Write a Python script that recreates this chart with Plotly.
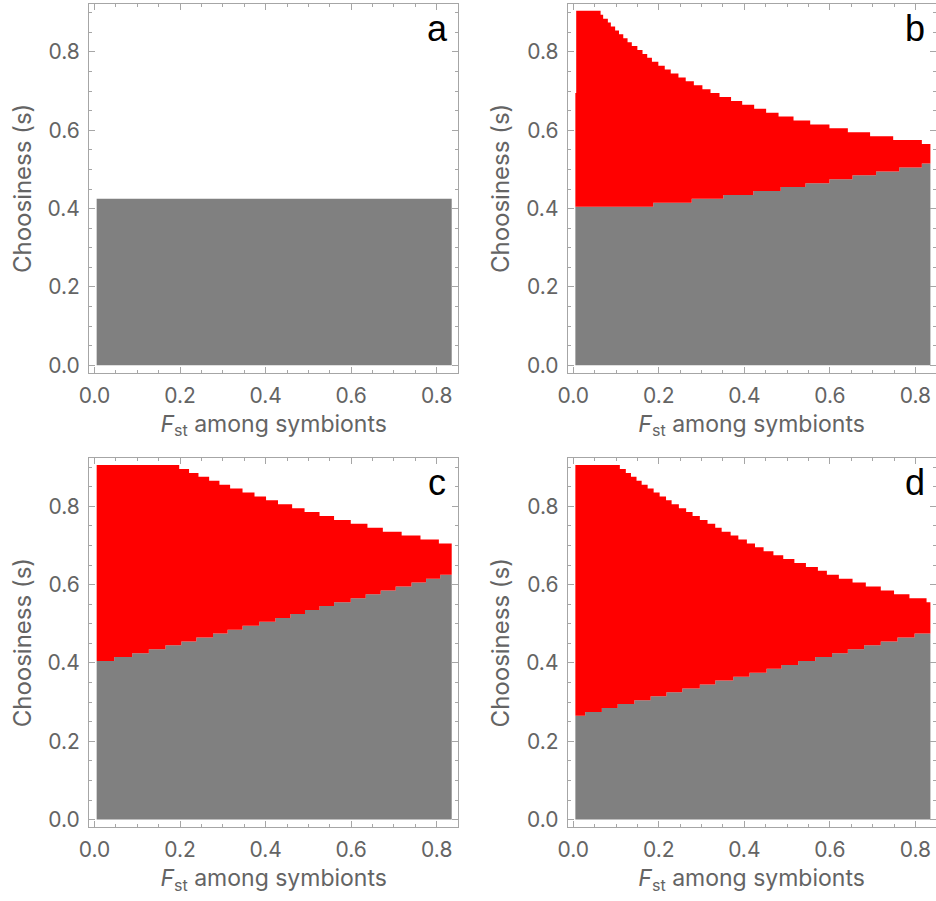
import plotly.graph_objects as go

# ---------------- data ----------------
X_END = 0.835

# panel a
a_lower_x = [0.005]
a_lower_y = [0.425]

# panel b
b_upper_x = [0.005, 0.007, 0.064, 0.070, 0.081, 0.088, 0.098, 0.107, 0.117, 0.127, 0.137, 0.150,
             0.162, 0.173, 0.184, 0.199, 0.214, 0.228, 0.246, 0.263, 0.282, 0.302,
             0.321, 0.342, 0.369, 0.395, 0.423, 0.451, 0.480, 0.515, 0.554, 0.599,
             0.642, 0.694, 0.748, 0.815]
b_upper_y = [0.695, 0.905, 0.895, 0.885, 0.875, 0.865, 0.855, 0.845, 0.835, 0.825, 0.815, 0.805,
             0.795, 0.785, 0.775, 0.765, 0.755, 0.745, 0.735, 0.725, 0.715, 0.705,
             0.695, 0.685, 0.675, 0.665, 0.655, 0.645, 0.635, 0.625, 0.615, 0.605,
             0.595, 0.585, 0.575, 0.565]
b_lower_x = [0.005, 0.187, 0.277, 0.351, 0.421, 0.485, 0.543, 0.599, 0.653, 0.708, 0.762, 0.815]
b_lower_y = [0.405, 0.415, 0.425, 0.435, 0.445, 0.455, 0.465, 0.475, 0.485, 0.495, 0.505, 0.515]

# panel c
c_upper_x = [0.005, 0.198, 0.221, 0.243, 0.268, 0.292, 0.317, 0.346, 0.374, 0.401, 0.429,
             0.462, 0.491, 0.526, 0.560, 0.599, 0.638, 0.674, 0.718, 0.762, 0.805]
c_upper_y = [0.905, 0.895, 0.885, 0.875, 0.865, 0.855, 0.845, 0.835, 0.825, 0.815, 0.805,
             0.795, 0.785, 0.775, 0.765, 0.755, 0.745, 0.735, 0.725, 0.715, 0.705]
c_lower_x = [0.005, 0.046, 0.088, 0.127, 0.166, 0.203, 0.238, 0.277, 0.311, 0.346, 0.385,
             0.423, 0.458, 0.492, 0.526, 0.560, 0.599, 0.634, 0.669, 0.704, 0.741, 0.775, 0.808]
c_lower_y = [0.405, 0.415, 0.425, 0.435, 0.445, 0.455, 0.465, 0.475, 0.485, 0.495, 0.505,
             0.515, 0.525, 0.535, 0.545, 0.555, 0.565, 0.575, 0.585, 0.595, 0.605, 0.615, 0.625]

# panel d
d_upper_x = [0.005, 0.109, 0.123, 0.135, 0.148, 0.160, 0.174, 0.188, 0.202, 0.217, 0.230,
             0.247, 0.264, 0.279, 0.296, 0.314, 0.332, 0.347, 0.368, 0.386, 0.406,
             0.425, 0.445, 0.468, 0.491, 0.517, 0.544, 0.572, 0.593, 0.621, 0.653,
             0.684, 0.719, 0.750, 0.786, 0.826]
d_upper_y = [0.905, 0.895, 0.885, 0.875, 0.865, 0.855, 0.845, 0.835, 0.825, 0.815, 0.805,
             0.795, 0.785, 0.775, 0.765, 0.755, 0.745, 0.735, 0.725, 0.715, 0.705,
             0.695, 0.685, 0.675, 0.665, 0.655, 0.645, 0.635, 0.625, 0.615, 0.605,
             0.595, 0.585, 0.575, 0.565, 0.555]
d_lower_x = [0.005, 0.028, 0.067, 0.104, 0.143, 0.181, 0.218, 0.255, 0.296, 0.332, 0.374,
             0.412, 0.452, 0.487, 0.526, 0.566, 0.605, 0.642, 0.680, 0.719, 0.758, 0.798]
d_lower_y = [0.265, 0.275, 0.285, 0.295, 0.305, 0.315, 0.325, 0.335, 0.345, 0.355, 0.365,
             0.375, 0.385, 0.395, 0.405, 0.415, 0.425, 0.435, 0.445, 0.455, 0.465, 0.475]

panel_labels = ["a", "b", "c", "d"]
tick_vals = [0.0, 0.2, 0.4, 0.6, 0.8]
tick_text = ["0.0", "0.2", "0.4", "0.6", "0.8"]

RED = "#FF0000"
GRAY = "#808080"

panels = [
    (None, None, a_lower_x, a_lower_y),
    (b_upper_x, b_upper_y, b_lower_x, b_lower_y),
    (c_upper_x, c_upper_y, c_lower_x, c_lower_y),
    (d_upper_x, d_upper_y, d_lower_x, d_lower_y),
]

# ---------------- layout geometry (pixels) ----------------
W, H = 936, 901
frames = [  # (left, right, top, bottom) in px
    (89.0, 458.3, 4.0, 372.7),
    (567.7, 935.5, 4.0, 372.7),
    (89.0, 458.3, 458.3, 827.0),
    (567.7, 935.5, 458.3, 827.0),
]
x_ranges = [[-0.0129, 0.8504], [-0.0129, 0.8469], [-0.0129, 0.8504], [-0.0129, 0.8469]]
y_range = [-0.0189, 0.9224]

fig = go.Figure()

FONT = "Inter, Liberation Sans, Arial, sans-serif"
TXT = "#646464"
FRAME = "#a6a6a6"

def step(xs, ys):
    return list(xs) + [X_END], list(ys) + [ys[-1]]

for i, (ux, uy, lx, ly) in enumerate(panels):
    xa = "x" if i == 0 else f"x{i+1}"
    ya = "y" if i == 0 else f"y{i+1}"
    sx, sy = step(lx, ly)
    fig.add_trace(go.Scatter(x=sx, y=sy, mode="lines", line=dict(width=0, shape="hv"),
                             fill="tozeroy", fillcolor=GRAY, xaxis=xa, yaxis=ya,
                             hoverinfo="skip", showlegend=False))
    if ux is not None:
        sx, sy = step(ux, uy)
        fig.add_trace(go.Scatter(x=sx, y=sy, mode="lines", line=dict(width=0, shape="hv"),
                                 fill="tonexty", fillcolor=RED, xaxis=xa, yaxis=ya,
                                 hoverinfo="skip", showlegend=False))

layout = dict(
    width=W, height=H,
    margin=dict(l=0, r=0, t=0, b=0, autoexpand=False),
    paper_bgcolor="white", plot_bgcolor="white",
    font=dict(family=FONT, color=TXT, size=20),
    showlegend=False,
)

annotations = []
for i, (l, r, t, b) in enumerate(frames):
    sfx = "" if i == 0 else str(i + 1)
    xdom = [l / W, r / W]
    ydom = [1 - b / H, 1 - t / H]
    axis_common = dict(
        showgrid=False, zeroline=False, showline=True, linecolor=FRAME, linewidth=1,
        mirror="allticks", ticks="inside", ticklen=6, tickwidth=1, tickcolor=FRAME,
        tickvals=tick_vals, ticktext=tick_text,
        tickfont=dict(family=FONT, size=21, color=TXT),
        minor=dict(ticks="inside", dtick=0.05, ticklen=3, tickcolor=FRAME, tickwidth=1, showgrid=False),
        fixedrange=True, automargin=False,
    )
    layout["xaxis" + sfx] = dict(
        axis_common, domain=xdom, range=x_ranges[i], anchor="y" + sfx,
        ticklabelstandoff=4,
        title=dict(text="<i>F</i><sub>st</sub> among symbionts",
                   font=dict(family=FONT, size=23, color=TXT), standoff=8),
    )
    layout["yaxis" + sfx] = dict(
        axis_common, domain=ydom, range=y_range, anchor="x" + sfx,
        ticklabelstandoff=4,
        title=dict(text="Choosiness (s)", font=dict(family=FONT, size=24, color=TXT), standoff=9),
    )
    annotations.append(dict(
        text=panel_labels[i], xref="paper", yref="paper",
        x=(r - 21) / W, y=1 - (t + 24) / H, xanchor="center", yanchor="middle",
        showarrow=False, font=dict(family="Liberation Sans, Arial, sans-serif", size=36, color="black"),
    ))

layout["annotations"] = annotations
fig.update_layout(**layout)
fig.write_html("out.html", config={"displayModeBar": False, "staticPlot": True},
               post_script="document.body.style.margin='0px';document.body.style.overflow='hidden';")
